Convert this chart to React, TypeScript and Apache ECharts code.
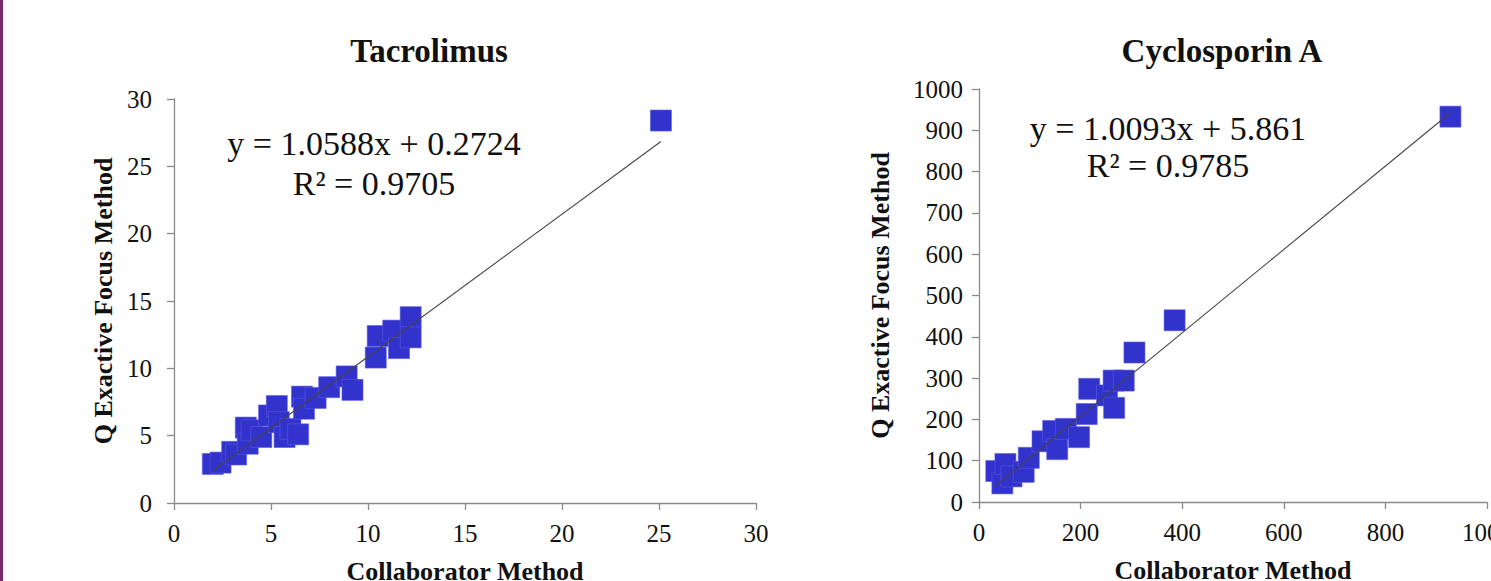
import React, { useEffect, useRef } from "react";
import * as echarts from "echarts";

// Tacrolimus: Collaborator Method (x) vs Q Exactive Focus Method (y)
const tacX = [2.0, 2.4, 3.0, 3.2, 3.7, 3.8, 4.0, 4.5, 4.9, 5.3, 5.4, 5.7, 6.0, 6.4, 6.6, 6.7, 7.3, 8.0, 8.9, 9.2, 10.4, 10.5, 11.3, 11.6, 12.2, 12.2, 25.1];
const tacY = [2.9, 3.0, 3.8, 3.6, 5.6, 4.4, 5.4, 4.9, 6.5, 7.2, 6.0, 4.9, 5.5, 5.1, 7.9, 7.0, 7.8, 8.6, 9.4, 8.4, 10.8, 12.4, 12.8, 11.5, 13.8, 12.3, 28.4];
// Cyclosporin A
const cycX = [34, 46, 52, 64, 88, 98, 125, 146, 154, 171, 197, 212, 217, 252, 265, 266, 285, 306, 385, 928];
const cycY = [75, 45, 92, 62, 73, 107, 147, 172, 128, 177, 157, 213, 274, 258, 294, 228, 294, 362, 440, 933];

// Regression fits [slope, intercept, R²]
const tacFit = [1.0588, 0.2724, 0.9705];
const cycFit = [1.0093, 5.861, 0.9785];

const titles = ["Tacrolimus", "Cyclosporin A"];
const xName = "Collaborator Method";
const yName = "Q Exactive Focus Method";

const serif = "'Liberation Serif', 'Times New Roman', serif";
const markerColor = "#3232cc";
const axisGray = "#8a8a8a";

function pairs(xs: number[], ys: number[]) {
  return xs.map((x, i) => [x, ys[i]]);
}
function fitLine(xs: number[], fit: number[]) {
  const lo = Math.min(...xs);
  const hi = Math.max(...xs);
  return [
    [lo, fit[0] * lo + fit[1]],
    [hi, fit[0] * hi + fit[1]],
  ];
}
function eqText(fit: number[], dec: number) {
  return `y = ${fit[0].toFixed(4)}x + ${fit[1].toFixed(dec)}`;
}

export default function App() {
  const ref = useRef<HTMLDivElement>(null);
  useEffect(() => {
    if (!ref.current) return;
    const chart = echarts.init(ref.current, null, { renderer: "svg" });
    const label = (margin: number) => ({
      color: "#111",
      fontSize: 25,
      fontFamily: serif,
      margin,
      formatter: (v: number) => String(v),
    });
    const axisCommon = {
      axisLine: { show: true, lineStyle: { color: axisGray, width: 1.3 } },
      axisTick: { show: true, inside: false, length: 7, lineStyle: { color: axisGray, width: 1.3 } },
      splitLine: { show: false },
      nameLocation: "middle" as const,
      nameTextStyle: { color: "#111", fontSize: 26, fontWeight: "bold" as const, fontFamily: serif },
    };
    const titleStyle = { fontSize: 33, fontWeight: "bold" as const, fontFamily: serif, color: "#111" };
    const eqFont = `34px ${serif}`;
    chart.setOption({
      animation: false,
      backgroundColor: "#fff",
      title: [
        { text: titles[0], left: 424, top: 29, textAlign: "center", textStyle: titleStyle },
        { text: titles[1], left: 1217, top: 29, textAlign: "center", textStyle: titleStyle },
      ],
      grid: [
        { left: 174, top: 99, width: 582, height: 404, containLabel: false, outerBoundsMode: "none" },
        { left: 979, top: 89, width: 508, height: 413, containLabel: false, outerBoundsMode: "none" },
      ],
      xAxis: [
        { ...axisCommon, type: "value", gridIndex: 0, min: 0, max: 30, interval: 5, name: xName, nameGap: 55, axisLabel: label(18) },
        { ...axisCommon, type: "value", gridIndex: 1, min: 0, max: 1000, interval: 200, name: xName, nameGap: 55, axisLabel: label(18) },
      ],
      yAxis: [
        { ...axisCommon, type: "value", gridIndex: 0, min: 0, max: 30, interval: 5, name: yName, nameGap: 58, axisLabel: label(22) },
        { ...axisCommon, type: "value", gridIndex: 1, min: 0, max: 1000, interval: 100, name: yName, nameGap: 86, axisLabel: label(16) },
      ],
      series: [
        {
          type: "scatter",
          xAxisIndex: 0,
          yAxisIndex: 0,
          symbol: "rect",
          symbolSize: 21,
          itemStyle: { color: markerColor, borderColor: "#5a5ae0", borderWidth: 0.6, opacity: 1 },
          data: pairs(tacX, tacY),
          z: 2,
        },
        {
          type: "line",
          xAxisIndex: 0,
          yAxisIndex: 0,
          symbol: "none",
          lineStyle: { color: "#444", width: 1.1 },
          data: fitLine(tacX, tacFit),
          z: 3,
        },
        {
          type: "scatter",
          xAxisIndex: 1,
          yAxisIndex: 1,
          symbol: "rect",
          symbolSize: 21,
          itemStyle: { color: markerColor, borderColor: "#5a5ae0", borderWidth: 0.6, opacity: 1 },
          data: pairs(cycX, cycY),
          z: 2,
        },
        {
          type: "line",
          xAxisIndex: 1,
          yAxisIndex: 1,
          symbol: "none",
          lineStyle: { color: "#444", width: 1.1 },
          data: fitLine(cycX, cycFit),
          z: 3,
        },
      ],
      graphic: [
        { type: "rect", left: 0, top: 0, shape: { width: 3, height: 581 }, style: { fill: "#7a2b6e" } },
        {
          type: "text",
          x: 374,
          y: 143,
          style: { text: eqText(tacFit, 4), font: eqFont, fill: "#111", textAlign: "center", textVerticalAlign: "middle" },
        },
        {
          type: "text",
          x: 374,
          y: 183,
          style: { text: `R² = ${tacFit[2].toFixed(4)}`, font: eqFont, fill: "#111", textAlign: "center", textVerticalAlign: "middle" },
        },
        {
          type: "text",
          x: 1168,
          y: 128,
          style: { text: eqText(cycFit, 3), font: eqFont, fill: "#111", textAlign: "center", textVerticalAlign: "middle" },
        },
        {
          type: "text",
          x: 1168,
          y: 165,
          style: { text: `R² = ${cycFit[2].toFixed(4)}`, font: eqFont, fill: "#111", textAlign: "center", textVerticalAlign: "middle" },
        },
      ],
    });
    return () => chart.dispose();
  }, []);
  return <div ref={ref} style={{ position: "fixed", left: 0, top: 0, width: 1491, height: 581 }} />;
}
